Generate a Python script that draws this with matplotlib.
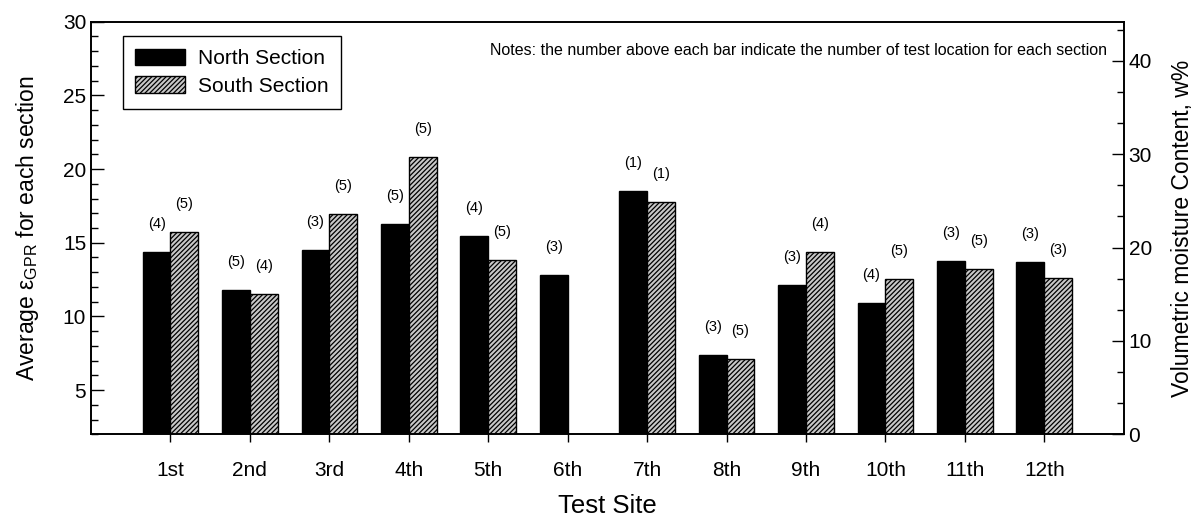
import matplotlib
matplotlib.use("Agg")
import matplotlib.pyplot as plt
from matplotlib.ticker import MultipleLocator
import numpy as np

plt.rcParams['font.family'] = ['Liberation Sans', 'DejaVu Sans']
plt.rcParams['mathtext.fontset'] = 'custom'
plt.rcParams['mathtext.rm'] = 'Liberation Sans'
plt.rcParams['hatch.linewidth'] = 0.9

sites = ["1st", "2nd", "3rd", "4th", "5th", "6th",
         "7th", "8th", "9th", "10th", "11th", "12th"]
north = [14.35, 11.82, 14.49, 16.28, 15.45, 12.82, 18.54, 7.39, 12.14, 10.88, 13.78, 13.68]
south = [15.70, 11.53, 16.92, 20.81, 13.83, np.nan, 17.75, 7.14, 14.35, 12.55, 13.20, 12.61]
n_north = [4, 5, 3, 5, 4, 3, 1, 3, 3, 4, 3, 3]
n_south = [5, 4, 5, 5, 5, None, 1, 5, 4, 5, 5, 3]

fig = plt.figure(figsize=(11.98, 5.18), dpi=100)
ax = fig.add_axes([0.076, 0.1616, 0.862, 0.7965])

x = np.arange(1, len(sites) + 1)
w = 0.35
ax.bar(x - w / 2, north, w, color="black", edgecolor="black", linewidth=1, label="North Section")
ax.bar(x + w / 2, south, w, color="#c8c8c8", edgecolor="black", linewidth=1,
       hatch="///////", label="South Section")

# counts above each bar
for xi, v, n in zip(x, north, n_north):
    ax.text(xi - w / 2, v + 1.9, f"({n})", ha="center", va="center", fontsize=10.5)
for xi, v, n in zip(x, south, n_south):
    if n is None:
        continue
    ax.text(xi + w / 2, v + 1.9, f"({n})", ha="center", va="center", fontsize=10.5)

ax.set_xlim(0, 13)
ax.set_ylim(2, 30)
ax.set_xticks(x)
ax.set_xticklabels(sites)
ax.yaxis.set_major_locator(MultipleLocator(5))
ax.yaxis.set_minor_locator(MultipleLocator(1))
ax.set_yticks([5, 10, 15, 20, 25, 30])
ax.tick_params(axis="y", which="both", direction="in", labelsize=15)
ax.tick_params(axis="y", which="major", length=9, width=1)
ax.tick_params(axis="y", which="minor", length=5, width=1)
ax.tick_params(axis="x", direction="out", length=6, width=1, labelsize=15, pad=13)
for s in ax.spines.values():
    s.set_linewidth(1.2)

ax.set_xlabel("Test Site", fontsize=18.5, labelpad=10)
ax.set_ylabel(r"Average ε$_\mathregular{GPR}$ for each section", fontsize=16.5, labelpad=16)

ax.text(0.984, 0.93, "Notes: the number above each bar indicate the number of test location for each section",
        transform=ax.transAxes, ha="right", va="center", fontsize=11.5)

leg = ax.legend(loc="upper left", bbox_to_anchor=(0.0305, 0.965), borderaxespad=0,
                fontsize=15, fancybox=False, edgecolor="black", framealpha=1,
                handlelength=2.4, handleheight=0.85, labelspacing=0.4,
                borderpad=0.6, handletextpad=0.6)
leg.get_frame().set_linewidth(1)

ax2 = ax.twinx()
ax2.set_ylim(0, 44.2)
ax2.yaxis.set_major_locator(MultipleLocator(10))
ax2.yaxis.set_minor_locator(MultipleLocator(10 / 3))
ax2.tick_params(axis="y", which="both", direction="in", labelsize=15)
ax2.tick_params(axis="y", which="major", length=9, width=1)
ax2.tick_params(axis="y", which="minor", length=5, width=1)
ax2.set_ylabel("Volumetric moisture Content, w%", fontsize=16.5, labelpad=14)
for s in ax2.spines.values():
    s.set_linewidth(1.2)

fig.savefig("out.png", dpi=100)
